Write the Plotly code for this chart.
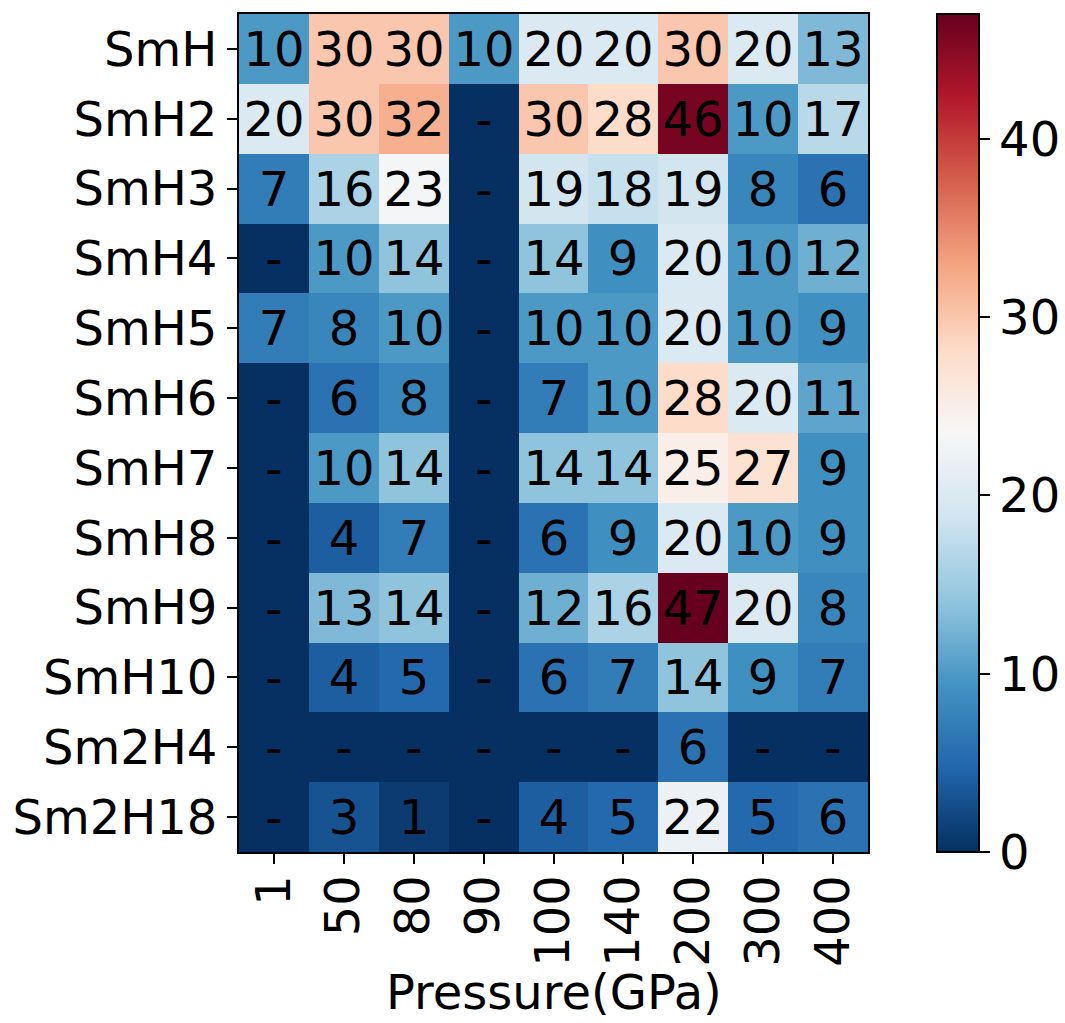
import plotly.graph_objects as go

pressures = ["1", "50", "80", "90", "100", "140", "200", "300", "400"]
compounds = ["SmH", "SmH2", "SmH3", "SmH4", "SmH5", "SmH6", "SmH7", "SmH8",
             "SmH9", "SmH10", "Sm2H4", "Sm2H18"]

row_SmH    = [10, 30, 30, 10, 20, 20, 30, 20, 13]
row_SmH2   = [20, 30, 32, 0, 30, 28, 46, 10, 17]
row_SmH3   = [7, 16, 23, 0, 19, 18, 19, 8, 6]
row_SmH4   = [0, 10, 14, 0, 14, 9, 20, 10, 12]
row_SmH5   = [7, 8, 10, 0, 10, 10, 20, 10, 9]
row_SmH6   = [0, 6, 8, 0, 7, 10, 28, 20, 11]
row_SmH7   = [0, 10, 14, 0, 14, 14, 25, 27, 9]
row_SmH8   = [0, 4, 7, 0, 6, 9, 20, 10, 9]
row_SmH9   = [0, 13, 14, 0, 12, 16, 47, 20, 8]
row_SmH10  = [0, 4, 5, 0, 6, 7, 14, 9, 7]
row_Sm2H4  = [0, 0, 0, 0, 0, 0, 6, 0, 0]
row_Sm2H18 = [0, 3, 1, 0, 4, 5, 22, 5, 6]

x_title = "Pressure(GPa)"

z = [row_SmH, row_SmH2, row_SmH3, row_SmH4, row_SmH5, row_SmH6, row_SmH7,
     row_SmH8, row_SmH9, row_SmH10, row_Sm2H4, row_Sm2H18]
text = [[("-" if v == 0 else str(v)) for v in row] for row in z]

rdbu_r = ["#053061", "#2166ac", "#4393c3", "#92c5de", "#d1e5f0", "#f7f7f7",
          "#fddbc7", "#f4a582", "#d6604d", "#b2182b", "#67001f"]
colorscale = [[i / (len(rdbu_r) - 1), c] for i, c in enumerate(rdbu_r)]

FONT = "DejaVu Sans"
FS = 48
L, R, T, B = 239, 197, 14, 171
W, H = 1065, 1023
plot_w = W - L - R
plot_h = H - T - B

fig = go.Figure(go.Heatmap(
    z=z, x=pressures, y=compounds,
    text=text, texttemplate="%{text}",
    textfont=dict(family=FONT, size=FS, color="black"),
    colorscale=colorscale, zmin=0, zmax=47,
    colorbar=dict(
        x=(937 - L) / plot_w, xanchor="left", xpad=0,
        y=0, yanchor="bottom", ypad=0,
        len=plot_h, lenmode="pixels",
        thickness=42, thicknessmode="pixels",
        outlinewidth=2, outlinecolor="black",
        tickvals=[0, 10, 20, 30, 40],
        tickprefix="\u2009",
        ticks="outside", ticklen=10, tickwidth=2, tickcolor="black",
        tickfont=dict(family=FONT, size=FS, color="black"),
    ),
))

fig.update_layout(
    width=W, height=H,
    margin=dict(l=L, r=R, t=T, b=B, autoexpand=False),
    paper_bgcolor="white", plot_bgcolor="white",
    font=dict(family=FONT, color="black"),
    annotations=[dict(
        text=x_title, xref="paper", yref="paper", x=0.5, y=0,
        xanchor="center", yanchor="middle", yshift=-140, showarrow=False,
        font=dict(family=FONT, size=FS, color="black"),
    )],
)
fig.update_xaxes(
    type="category", tickangle=-90, automargin=False,
    tickfont=dict(family=FONT, size=FS),
    ticks="outside", ticklen=10, tickwidth=2, tickcolor="black",
    ticklabelstandoff=-8,
    showline=True, linecolor="black", linewidth=2, mirror=True,
    showgrid=False, zeroline=False,
)
fig.update_yaxes(
    type="category", autorange="reversed", automargin=False,
    tickfont=dict(family=FONT, size=FS),
    ticks="outside", ticklen=10, tickwidth=2, tickcolor="black",
    showline=True, linecolor="black", linewidth=2, mirror=True,
    showgrid=False, zeroline=False,
)

fig.write_html("out.html")
